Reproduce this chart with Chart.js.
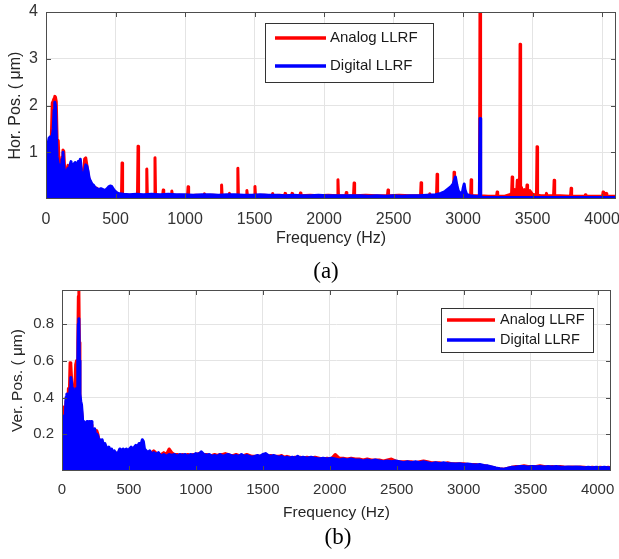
<!DOCTYPE html>
<html>
<head>
<meta charset="utf-8">
<script src="https://cdn.jsdelivr.net/npm/chart.js@4/dist/chart.umd.min.js"></script>
<style>
  body { margin: 0; background: #fff; width: 619px; height: 559px; position: relative; overflow: hidden; }
  .wrap { position: absolute; left: 0; width: 619px; }
  .cap { position: absolute; font-family: "Liberation Serif", "Times New Roman", serif; font-size: 23px; color: #000; transform: translate(-50%, -50%); }
</style>
</head>
<body>
<div class="wrap" style="top:0;height:262px"><canvas id="horChart"></canvas></div>
<div class="cap" style="left:326px;top:271px">(a)</div>
<div class="wrap" style="top:278px;height:250px"><canvas id="verChart"></canvas></div>
<div class="cap" style="left:338px;top:537px">(b)</div>
<script>
// ===== data =====
const freqTicks = [0, 500, 1000, 1500, 2000, 2500, 3000, 3500, 4000];
const horTicks = [1, 2, 3, 4];
const verTicks = [0.2, 0.4, 0.6, 0.8];
const seriesNames = ["Analog LLRF", "Digital LLRF"];

// (a) horizontal position, analog LLRF
const horAnalogHz = [
  0, 8, 15, 22, 30, 38, 45, 52, 58, 63,
  68, 74, 80, 88, 95, 102, 110, 116, 122, 128,
  135, 142, 150, 158, 165, 172, 180, 188, 195, 202,
  210, 217, 224, 232, 240, 247, 254, 262, 270, 278,
  286, 294, 302, 310, 320, 330, 340, 352, 365, 380,
  395, 410, 425, 440, 460, 480, 500, 520, 543, 547,
  551, 600, 658, 662, 666, 721, 725, 729, 780, 784,
  788, 839, 843, 847, 901, 905, 909, 960, 1018, 1022,
  1026, 1080, 1136, 1140, 1144, 1200, 1259, 1263, 1267, 1316,
  1320, 1324, 1376, 1380, 1384, 1441, 1445, 1449, 1499, 1503,
  1507, 1570, 1626, 1630, 1634, 1680, 1716, 1720, 1724, 1766,
  1770, 1774, 1826, 1830, 1834, 1900, 1960, 2030, 2096, 2100,
  2104, 2156, 2160, 2164, 2212, 2216, 2220, 2300, 2380, 2456,
  2460, 2464, 2540, 2620, 2694, 2698, 2702, 2756, 2760, 2764,
  2809, 2813, 2817, 2870, 2931, 2935, 2939, 2990, 3054, 3058,
  3062, 3118, 3122, 3126, 3180, 3241, 3245, 3249, 3300, 3340,
  3349, 3353, 3357, 3372, 3386, 3390, 3394, 3406, 3410, 3414,
  3420, 3425, 3440, 3456, 3460, 3464, 3480, 3500, 3528, 3532,
  3536, 3560, 3596, 3600, 3604, 3630, 3651, 3655, 3659, 3700,
  3773, 3777, 3781, 3820, 3876, 3880, 3884, 3950, 4003, 4007,
  4011, 4026, 4030, 4034, 4070, 4100
];
const horAnalog = [
  1.2, 1.15, 1.2, 1.1, 1.05, 1.3, 2.05, 2.1, 2.15, 2.2,
  2.18, 2.08, 1.28, 1.25, 0.7, 0.6, 0.65, 0.9, 1.05, 1.02,
  0.6, 0.55, 0.62, 0.72, 0.55, 0.6, 0.7, 0.6, 0.5, 0.65,
  0.7, 0.55, 0.6, 0.7, 0.72, 0.75, 0.55, 0.5, 0.55, 0.86,
  0.88, 0.72, 0.55, 0.42, 0.35, 0.3, 0.27, 0.24, 0.23, 0.2,
  0.2, 0.18, 0.17, 0.2, 0.24, 0.2, 0.15, 0.1, 0.07, 0.77,
  0.07, 0.08, 0.07, 1.13, 0.07, 0.07, 0.64, 0.07, 0.07, 0.88,
  0.07, 0.07, 0.19, 0.07, 0.07, 0.17, 0.07, 0.08, 0.07, 0.26,
  0.07, 0.08, 0.07, 0.11, 0.07, 0.08, 0.07, 0.3, 0.07, 0.07,
  0.12, 0.07, 0.07, 0.66, 0.07, 0.07, 0.18, 0.07, 0.07, 0.27,
  0.07, 0.08, 0.07, 0.12, 0.07, 0.08, 0.07, 0.12, 0.07, 0.07,
  0.12, 0.07, 0.07, 0.13, 0.07, 0.08, 0.07, 0.08, 0.07, 0.41,
  0.07, 0.07, 0.14, 0.07, 0.07, 0.34, 0.07, 0.08, 0.07, 0.07,
  0.19, 0.07, 0.08, 0.07, 0.07, 0.35, 0.07, 0.07, 0.11, 0.07,
  0.07, 0.53, 0.07, 0.08, 0.07, 0.57, 0.07, 0.08, 0.07, 0.41,
  0.07, 0.07, 4.6, 0.07, 0.06, 0.06, 0.15, 0.06, 0.06, 0.1,
  0.12, 0.47, 0.15, 0.2, 0.18, 0.4, 0.2, 0.2, 3.31, 0.2,
  0.25, 0.15, 0.2, 0.15, 0.3, 0.14, 0.18, 0.1, 0.08, 1.12,
  0.08, 0.07, 0.07, 0.12, 0.07, 0.07, 0.07, 0.4, 0.07, 0.07,
  0.06, 0.23, 0.06, 0.06, 0.06, 0.09, 0.06, 0.06, 0.06, 0.15,
  0.08, 0.08, 0.12, 0.06, 0.06, 0.06
];

// (a) horizontal position, digital LLRF
const horDigitalHz = [
  0, 8, 15, 22, 30, 38, 45, 52, 58, 63,
  68, 74, 80, 88, 95, 102, 110, 116, 122, 128,
  135, 142, 150, 158, 165, 172, 180, 188, 195, 202,
  210, 217, 224, 232, 240, 247, 254, 262, 270, 278,
  286, 294, 302, 310, 320, 330, 340, 352, 365, 380,
  395, 410, 425, 440, 452, 462, 472, 482, 495, 510,
  530, 560, 600, 650, 700, 760, 820, 880, 940, 1000,
  1060, 1120, 1180, 1240, 1300, 1360, 1420, 1480, 1540, 1600,
  1660, 1720, 1780, 1840, 1900, 1960, 2020, 2080, 2140, 2200,
  2260, 2320, 2380, 2440, 2500, 2560, 2620, 2680, 2740, 2800,
  2840, 2870, 2895, 2915, 2930, 2945, 2955, 2965, 2980, 2995,
  3002, 3008, 3014, 3025, 3050, 3080, 3110, 3117, 3122, 3127,
  3135, 3170, 3220, 3280, 3340, 3400, 3460, 3520, 3580, 3640,
  3700, 3760, 3820, 3880, 3940, 4000, 4050, 4100
];
const horDigital = [
  1.15, 1.1, 1.18, 1.3, 1.33, 1.2, 1.35, 1.5, 1.9, 2.07,
  2.0, 1.4, 0.9, 0.75, 0.68, 0.72, 0.6, 0.85, 1.0, 0.7,
  0.55, 0.5, 0.6, 0.65, 0.5, 0.72, 0.8, 0.6, 0.55, 0.75,
  0.78, 0.6, 0.62, 0.8, 0.78, 0.85, 0.6, 0.45, 0.4, 0.6,
  0.73, 0.7, 0.6, 0.45, 0.38, 0.32, 0.3, 0.25, 0.22, 0.2,
  0.22, 0.2, 0.18, 0.22, 0.26, 0.28, 0.27, 0.22, 0.17, 0.13,
  0.11, 0.1, 0.09, 0.1, 0.09, 0.1, 0.09, 0.1, 0.09, 0.09,
  0.08, 0.09, 0.09, 0.08, 0.09, 0.09, 0.08, 0.08, 0.09, 0.08,
  0.08, 0.07, 0.08, 0.07, 0.07, 0.08, 0.07, 0.07, 0.07, 0.07,
  0.07, 0.06, 0.07, 0.06, 0.07, 0.06, 0.07, 0.07, 0.08, 0.09,
  0.12, 0.16, 0.22, 0.27, 0.33, 0.47, 0.3, 0.18, 0.12, 0.14,
  0.25, 0.32, 0.2, 0.1, 0.07, 0.06, 0.05, 0.05, 1.72, 0.05,
  0.04, 0.03, 0.03, 0.03, 0.03, 0.03, 0.03, 0.03, 0.03, 0.03,
  0.03, 0.03, 0.03, 0.03, 0.03, 0.03, 0.03, 0.03
];

// (b) vertical position, shared frequency grid
const verHz = [
  0, 6, 12, 18, 24, 30, 36, 42, 48, 54,
  60, 66, 72, 78, 84, 90, 96, 102, 108, 114,
  118, 122, 126, 130, 134, 140, 146, 152, 158, 164,
  170, 176, 182, 188, 194, 200, 206, 212, 218, 224,
  230, 236, 244, 252, 260, 268, 276, 284, 292, 300,
  310, 320, 330, 340, 350, 360, 370, 380, 390, 400,
  410, 420, 432, 444, 456, 468, 480, 492, 504, 516,
  528, 540, 552, 564, 576, 588, 600, 608, 616, 628,
  640, 655, 670, 685, 700, 720, 740, 760, 780, 800,
  820, 840, 860, 880, 900, 920, 940, 960, 980, 1000,
  1020, 1040, 1060, 1080, 1100, 1120, 1140, 1160, 1180, 1200,
  1220, 1240, 1260, 1280, 1300, 1320, 1340, 1360, 1380, 1400,
  1420, 1440, 1460, 1480, 1500, 1520, 1540, 1560, 1580, 1600,
  1620, 1640, 1660, 1680, 1700, 1720, 1740, 1760, 1780, 1800,
  1830, 1860, 1890, 1920, 1950, 1980, 2010, 2040, 2070, 2100,
  2130, 2160, 2190, 2220, 2250, 2280, 2310, 2340, 2370, 2400,
  2430, 2460, 2490, 2520, 2550, 2580, 2610, 2640, 2670, 2700,
  2730, 2760, 2790, 2820, 2850, 2880, 2910, 2940, 2970, 3000,
  3030, 3060, 3090, 3120, 3150, 3180, 3210, 3240, 3270, 3300,
  3330, 3360, 3390, 3420, 3450, 3480, 3510, 3540, 3570, 3600,
  3630, 3660, 3690, 3720, 3750, 3780, 3810, 3840, 3870, 3900,
  3930, 3960, 3990, 4020, 4050, 4080, 4100
];
const verAnalog = [
  .35, .30, .25, .28, .30, .38, .40, .36, .45, .40,
  .59, .58, .50, .44, .46, .40, .45, .58, .60, .45,
  .70, .95, .99, .70, .40, .35, .33, .28, .25, .26,
  .24, .22, .20, .25, .22, .20, .24, .23, .25, .22,
  .20, .22, .20, .19, .22, .20, .17, .16, .16, .15,
  .14, .14, .12, .11, .12, .11, .11, .10, .10, .10,
  .09, .09, .10, .10, .11, .10, .11, .10, .11, .12,
  .11, .12, .12, .11, .13, .12, .14, .13, .10, .10,
  .10, .10, .10, .11, .10, .09, .09, .10, .09, .12,
  .10, .09, .09, .085, .09, .085, .09, .085, .09, .09,
  .095, .09, .09, .09, .085, .085, .09, .085, .09, .09,
  .095, .09, .085, .085, .09, .085, .08, .085, .09, .085,
  .08, .08, .08, .08, .085, .08, .08, .085, .08, .08,
  .08, .085, .075, .08, .075, .07, .075, .07, .075, .07,
  .075, .07, .075, .07, .065, .07, .065, .09, .07, .07,
  .065, .07, .065, .065, .06, .065, .06, .06, .06, .055,
  .06, .065, .055, .05, .05, .05, .05, .045, .05, .055,
  .05, .045, .045, .045, .04, .045, .04, .04, .04, .04,
  .035, .035, .035, .03, .03, .025, .02, .015, .012, .01,
  .015, .02, .025, .025, .028, .025, .025, .025, .028, .025,
  .022, .025, .022, .025, .022, .02, .022, .02, .022, .02,
  .018, .02, .018, .02, .018, .02, .018
];
const verDigital = [
  .27, .30, .22, .30, .28, .40, .42, .35, .42, .33,
  .45, .51, .48, .40, .45, .38, .43, .40, .45, .38,
  .60, .80, .83, .60, .42, .38, .36, .30, .22, .27,
  .26, .20, .22, .27, .20, .18, .27, .25, .27, .20,
  .22, .20, .23, .18, .20, .19, .16, .17, .15, .17,
  .14, .15, .13, .12, .13, .11, .12, .10, .11, .10,
  .09, .10, .12, .11, .12, .11, .12, .11, .12, .13,
  .12, .13, .14, .13, .15, .14, .17, .16, .12, .11,
  .10, .11, .09, .10, .09, .10, .08, .09, .08, .09,
  .085, .09, .08, .09, .085, .09, .08, .09, .085, .095,
  .09, .105, .09, .085, .09, .08, .085, .08, .09, .08,
  .085, .09, .085, .08, .085, .08, .09, .08, .085, .08,
  .075, .08, .085, .08, .09, .095, .085, .08, .085, .08,
  .075, .08, .07, .075, .07, .075, .07, .08, .07, .075,
  .07, .075, .07, .065, .07, .065, .07, .065, .06, .065,
  .06, .065, .06, .06, .055, .06, .055, .06, .055, .05,
  .055, .05, .055, .05, .045, .05, .045, .05, .045, .05,
  .045, .04, .045, .04, .045, .04, .04, .038, .04, .035,
  .038, .035, .033, .035, .03, .028, .022, .016, .012, .01,
  .015, .02, .022, .025, .025, .022, .025, .023, .025, .022,
  .024, .022, .025, .022, .02, .022, .02, .022, .02, .018,
  .02, .018, .02, .018, .02, .018, .018
];

// ===== helpers =====
const RED = "#ff0000";
const BLUE = "#0000ff";
const FONT = '"Liberation Sans", Arial, sans-serif';
Chart.defaults.font.family = FONT;
Chart.defaults.color = "#333333";

function toPoints(hz, vals) {
  return hz.map((f, i) => ({ x: f, y: vals[i] }));
}

function trace(label, color, hz, vals, order) {
  return {
    label: label,
    data: toPoints(hz, vals),
    borderColor: color,
    backgroundColor: color,
    borderWidth: 3,
    borderJoinStyle: "round",
    pointRadius: 0,
    fill: "origin",
    order: order,
    clip: 0
  };
}

// MATLAB style box with inward ticks on all four sides
const frameBox = {
  id: "frameBox",
  afterDatasetsDraw(chart) {
    const { ctx, chartArea: a, scales } = chart;
    ctx.save();
    ctx.strokeStyle = "#4d4d4d";
    ctx.lineWidth = 1;
    ctx.beginPath();
    scales.x.ticks.forEach(t => {
      const p = Math.round(scales.x.getPixelForValue(t.value)) + 0.5;
      ctx.moveTo(p, a.bottom); ctx.lineTo(p, a.bottom - 5);
      ctx.moveTo(p, a.top); ctx.lineTo(p, a.top + 5);
    });
    scales.y.ticks.forEach(t => {
      const p = Math.round(scales.y.getPixelForValue(t.value)) + 0.5;
      ctx.moveTo(a.left, p); ctx.lineTo(a.left + 5, p);
      ctx.moveTo(a.right, p); ctx.lineTo(a.right - 5, p);
    });
    ctx.stroke();
    ctx.strokeRect(Math.round(a.left) + 0.5, Math.round(a.top) + 0.5,
      Math.round(a.right - a.left) - 1, Math.round(a.bottom - a.top) - 1);
    ctx.restore();
  }
};

// legend box inside the plot
function boxLegend(cfg) {
  return {
    id: "boxLegend",
    afterDraw(chart) {
      const ctx = chart.ctx;
      ctx.save();
      ctx.fillStyle = "#fff";
      ctx.fillRect(cfg.left, cfg.top, cfg.width, cfg.height);
      ctx.strokeStyle = "#333";
      ctx.lineWidth = 1;
      ctx.strokeRect(cfg.left + 0.5, cfg.top + 0.5, cfg.width, cfg.height);
      chart.data.datasets.forEach((ds, i) => {
        const yy = cfg.rowY[i];
        ctx.strokeStyle = ds.borderColor;
        ctx.lineWidth = 3.5;
        ctx.beginPath();
        ctx.moveTo(cfg.lineX0, yy);
        ctx.lineTo(cfg.lineX1, yy);
        ctx.stroke();
        ctx.fillStyle = "#1a1a1a";
        ctx.font = cfg.fontSize + "px " + FONT;
        ctx.textBaseline = "middle";
        ctx.fillText(ds.label, cfg.textX, yy);
      });
      ctx.restore();
    }
  };
}

function makeChart(id, o) {
  return new Chart(document.getElementById(id), {
    type: "line",
    data: {
      datasets: [
        trace(seriesNames[0], RED, o.redHz, o.red, 2),
        trace(seriesNames[1], BLUE, o.blueHz, o.blue, 1)
      ]
    },
    options: {
      responsive: true,
      maintainAspectRatio: false,
      animation: false,
      events: [],
      layout: { padding: o.padding },
      plugins: { legend: { display: false }, tooltip: { enabled: false } },
      scales: {
        x: {
          type: "linear",
          min: 0,
          max: 4100,
          afterBuildTicks: s => { s.ticks = freqTicks.map(v => ({ value: v })); },
          afterFit: s => { s.height = o.xHeight; s.paddingLeft = 0; s.paddingRight = 0; },
          ticks: { padding: o.xTickPad, font: { size: o.tickSize }, color: "#333", callback: v => String(v) },
          grid: { color: "#e4e4e4", drawTicks: false },
          border: { display: false },
          title: { display: true, text: "Frequency (Hz)", font: { size: o.titleSize }, color: "#262626", padding: 0 }
        },
        y: {
          type: "linear",
          min: 0,
          max: o.yMax,
          afterBuildTicks: s => { s.ticks = o.yTicks.map(v => ({ value: v })); },
          afterFit: s => { s.width = o.yWidth; s.paddingTop = 0; s.paddingBottom = 0; },
          ticks: { padding: 8, font: { size: o.tickSize }, color: "#333", callback: v => String(v) },
          grid: { color: "#e4e4e4", drawTicks: false },
          border: { display: false },
          title: { display: true, text: o.yTitle, font: { size: o.titleSize }, color: "#262626", padding: 0 }
        }
      }
    },
    plugins: [frameBox, boxLegend(o.legend)]
  });
}

makeChart("horChart", {
  redHz: horAnalogHz, red: horAnalog,
  blueHz: horDigitalHz, blue: horDigital,
  yMax: 4, yTicks: horTicks, yTitle: "Hor. Pos. ( μm)",
  padding: { left: 6, top: 12, right: 3, bottom: 14 },
  xHeight: 49, yWidth: 40, xTickPad: 11, tickSize: 16, titleSize: 16,
  legend: { left: 265, top: 23, width: 168, height: 59, rowY: [38, 66],
            lineX0: 275, lineX1: 326, textX: 330, fontSize: 15 }
});

makeChart("verChart", {
  redHz: verHz, red: verAnalog,
  blueHz: verHz, blue: verDigital,
  yMax: 0.986, yTicks: verTicks, yTitle: "Ver. Pos. ( μm)",
  padding: { left: 8, top: 12, right: 8, bottom: 6 },
  xHeight: 51, yWidth: 54, xTickPad: 10, tickSize: 15, titleSize: 15.5,
  legend: { left: 441, top: 30, width: 152, height: 44, rowY: [42, 62],
            lineX0: 447, lineX1: 495, textX: 500, fontSize: 14.5 }
});
</script>
</body>
</html>
